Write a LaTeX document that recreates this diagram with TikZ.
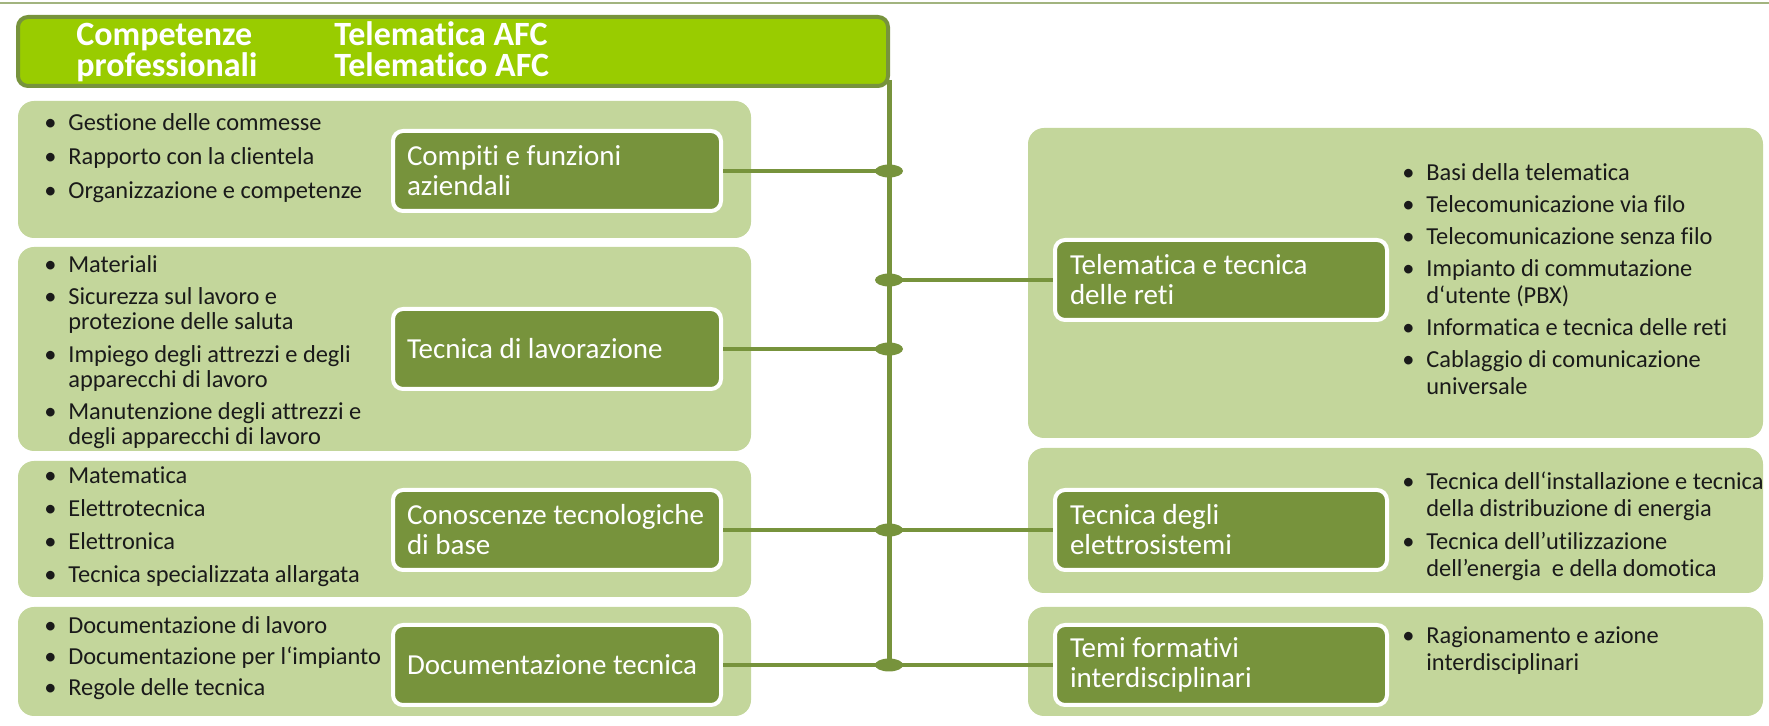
\documentclass[tikz,border=0pt]{standalone}
\usepackage{fontspec}
\setmainfont{Carlito}[Ligatures=NoCommon]
\usetikzlibrary{shapes.geometric}
\definecolor{dkgreen}{HTML}{77933C}
\definecolor{ltgreen}{HTML}{C3D69B}
\definecolor{hdgreen}{HTML}{99CC00}
\definecolor{txtcol}{HTML}{1A1A1A}
\definecolor{toplinecol}{HTML}{A2B47F}
\newcommand{\bulmark}{\makebox[12pt][l]{•}}
\newcommand{\contind}{\hspace*{12pt}}
\begin{document}
\begin{tikzpicture}[x=0.5pt,y=-0.5pt,
  panel/.style={fill=ltgreen, draw=none, rounded corners=8pt, inner sep=0pt},
  lbox/.style={draw=white, line width=2pt, fill=dkgreen, rounded corners=5pt,
    minimum height=40pt, text width=150pt, inner xsep=7pt, inner ysep=0pt,
    align=flush left, text=white, font=\fontsize{14.5}{15}\selectfont},
  rbox/.style={lbox, text width=151pt, inner xsep=7.5pt},
  blist/.style={anchor=base west, align=left, inner sep=0pt, text=txtcol},
  hdtext/.style={anchor=base west, align=left, inner sep=0pt, text=white,
    font=\bfseries\fontsize{17}{15.5}\selectfont},
  dotn/.style={ellipse, fill=dkgreen, minimum width=14pt, minimum height=6.5pt, inner sep=0pt},
  conn/.style={draw=dkgreen, line width=2pt},
  trunkline/.style={draw=dkgreen, line width=2.5pt},
  topline/.style={draw=toplinecol, line width=1pt},
]
\path[use as bounding box] (0,0) rectangle (1769,726);
% top rule
\coordinate (tl) at (0,3);
\coordinate (tr) at (1769,3);
\draw[topline] (tl) -- (tr);
% panels
\node[panel, minimum width=366.5pt, minimum height=68.5pt] (p1) at (384.5,169.5) {};
\node[panel, minimum width=366.5pt, minimum height=102pt] (p2) at (384.5,349) {};
\node[panel, minimum width=366.5pt, minimum height=68pt] (p3) at (384.5,529) {};
\node[panel, minimum width=366.5pt, minimum height=54.5pt] (p4) at (384.5,661.5) {};
\node[panel, minimum width=367.5pt, minimum height=155pt] (r1) at (1395.5,283) {};
\node[panel, minimum width=367.5pt, minimum height=72.5pt] (r2) at (1395.5,520.5) {};
\node[panel, minimum width=367.5pt, minimum height=54.5pt] (r3) at (1395.5,661.5) {};
% boxes
\node[lbox] (b1) at (557,171) {Compiti e funzioni\\aziendali};
\node[lbox] (b2) at (557,349) {Tecnica di lavorazione};
\node[lbox] (b3) at (557,530) {\mbox{Conoscenze tecnologiche}\\di base};
\node[lbox] (b4) at (557,665) {Documentazione tecnica};
\node[rbox] (rb1) at (1221,280) {Telematica e tecnica\\delle reti};
\node[rbox] (rb2) at (1221,530) {Tecnica degli\\elettrosistemi};
\node[rbox] (rb3) at (1221,665) {Temi formativi\\interdisciplinari};
% dots
\node[dotn] (d1) at (889,171) {};
\node[dotn] (d2) at (889,280) {};
\node[dotn] (d3) at (889,349) {};
\node[dotn] (d4) at (889,530) {};
\node[dotn] (d5) at (889,665) {};
% trunk and connectors
\coordinate (ttop) at (889,80);
\draw[trunkline] (ttop) -- (d5.center);
\draw[conn] (b1.east) -- (d1.center);
\draw[conn] (b2.east) -- (d3.center);
\draw[conn] (b3.east) -- (d4.center);
\draw[conn] (b4.east) -- (d5.center);
\draw[conn] (d2.center) -- (rb1.west);
\draw[conn] (d4.center) -- (rb2.west);
\draw[conn] (d5.center) -- (rb3.west);
% header
\node[draw=dkgreen, line width=2pt, fill=hdgreen, rounded corners=5pt,
  minimum width=435pt, minimum height=34.5pt, inner sep=0pt] (header) at (453,51.5) {};
\node[hdtext] (h1) at (76,77) {Competenze\\professionali};
\node[hdtext] (h2) at (334,77) {Telematica AFC\\Telematico AFC};
% lists (anchored at the baseline of their last line)
\node[blist, font=\fontsize{12.2}{17}\selectfont] (l1) at (44,199)
  {\bulmark Gestione delle commesse\\\bulmark Rapporto con la clientela\\\bulmark Organizzazione e competenze};
\node[blist, font=\fontsize{12.2}{12.5}\selectfont] (l2) at (44,445)
  {\bulmark Materiali\\[3.75pt]
   \bulmark Sicurezza sul lavoro e\\\contind protezione delle saluta\\[3.75pt]
   \bulmark Impiego degli attrezzi e degli\\\contind apparecchi di lavoro\\[3.75pt]
   \bulmark Manutenzione degli attrezzi e\\\contind degli apparecchi di lavoro};
\node[blist, font=\fontsize{12.2}{16.5}\selectfont] (l3) at (44,583)
  {\bulmark Matematica\\\bulmark Elettrotecnica\\\bulmark Elettronica\\\bulmark Tecnica specializzata allargata};
\node[blist, font=\fontsize{12.2}{15.5}\selectfont] (l4) at (44,696)
  {\bulmark Documentazione di lavoro\\\bulmark Documentazione per l‘impianto\\\bulmark Regole delle tecnica};
\node[blist, font=\fontsize{12.2}{13.5}\selectfont] (rl1) at (1402,395)
  {\bulmark Basi della telematica\\[2.5pt]
   \bulmark Telecomunicazione via filo\\[2.5pt]
   \bulmark Telecomunicazione senza filo\\[2.5pt]
   \bulmark Impianto di commutazione\\\contind d‘utente (PBX)\\[2.5pt]
   \bulmark Informatica e tecnica delle reti\\[2.5pt]
   \bulmark Cablaggio di comunicazione\\\contind universale};
\node[blist, font=\fontsize{12.2}{13.5}\selectfont] (rl2) at (1402,577)
  {\bulmark Tecnica dell‘installazione e tecnica\\\contind della distribuzione di energia\\[3pt]
   \bulmark Tecnica dell’utilizzazione\\\contind dell’energia\ \ e della domotica};
\node[blist, font=\fontsize{12.2}{13.5}\selectfont] (rl3) at (1402,671)
  {\bulmark Ragionamento e azione\\\contind interdisciplinari};
\end{tikzpicture}
\end{document}
